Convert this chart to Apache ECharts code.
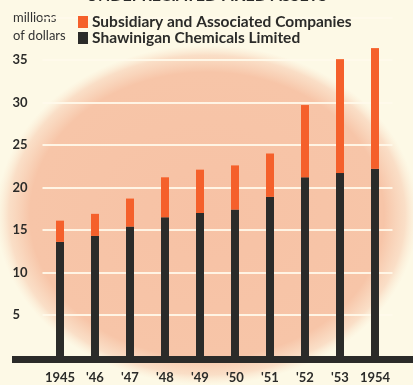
<!DOCTYPE html>
<html>
<head>
<meta charset="utf-8">
<script src="https://cdn.jsdelivr.net/npm/echarts@6/dist/echarts.min.js"></script>
<style>
  html, body { margin: 0; padding: 0; background: #fdf9e6; }
  #chart { width: 413px; height: 385px; }
</style>
</head>
<body>
<div id="chart"></div>
<script>
// Undepreciated fixed assets, millions of dollars
const years = ['1945', "'46", "'47", "'48", "'49", "'50", "'51", "'52", "'53", '1954'];
const shawinigan = [13.6, 14.3, 15.4, 16.5, 17.0, 17.4, 18.9, 21.2, 21.7, 22.2];
const subsidiary = [2.5, 2.6, 3.3, 4.7, 5.1, 5.2, 5.1, 8.5, 13.4, 14.2];
const yTicks = [5, 10, 15, 20, 25, 30, 35];

const FONT = 'Lato';
const INK = '#2b2b29';

const chart = echarts.init(document.getElementById('chart'), null, { renderer: 'canvas' });

chart.setOption({
  backgroundColor: '#fdf9e6',
  animation: false,
  title: {
    text: 'UNDEPRECIATED FIXED ASSETS',
    left: 'center',
    top: -17,
    textStyle: { fontFamily: FONT, fontWeight: 'bold', fontSize: 16, color: INK }
  },
  graphic: [
    {
      type: 'circle',
      z: -10,
      silent: true,
      x: 207, y: 215,
      scaleX: 1.24, scaleY: 1,
      shape: { cx: 0, cy: 0, r: 170 },
      style: {
        fill: {
          type: 'radial', x: 0.5, y: 0.5, r: 0.5,
          colorStops: [
            { offset: 0, color: '#f7c2a5' },
            { offset: 0.84, color: '#f7c5a8' },
            { offset: 0.94, color: 'rgba(248,205,178,0.6)' },
            { offset: 1, color: 'rgba(250,225,200,0)' }
          ]
        }
      }
    },
    {
      type: 'rect',
      z: 100,
      silent: true,
      shape: { x: 12, y: 356, width: 401, height: 7 },
      style: { fill: INK }
    },
    {
      type: 'text',
      left: 13,
      top: 9,
      style: {
        text: 'millions\nof dollars',
        font: '13px Lato',
        lineHeight: 18,
        fill: '#333'
      }
    }
  ],
  legend: {
    orient: 'vertical',
    left: 78,
    top: 14,
    padding: 0,
    itemWidth: 10,
    itemHeight: 12,
    itemGap: 0,
    icon: 'rect',
    data: ['Subsidiary and Associated Companies', 'Shawinigan Chemicals Limited'],
    textStyle: { fontFamily: FONT, fontWeight: 'bold', fontSize: 15.5, lineHeight: 13, color: INK, padding: [0, 0, 0, -1] }
  },
  grid: { left: 42.5, right: 20.5, top: 17.5, bottom: 27.5 },
  xAxis: {
    type: 'category',
    data: years,
    axisLine: { show: false },
    axisTick: { show: false },
    axisLabel: {
      interval: 0,
      margin: 14,
      fontFamily: FONT, fontWeight: 'bold', fontSize: 13, color: INK
    }
  },
  yAxis: {
    type: 'value',
    min: 0,
    max: 40,
    interval: 5,
    axisLine: { show: false },
    axisTick: { show: false },
    splitLine: { lineStyle: { color: 'rgba(255,250,235,0.9)', width: 2 } },
    axisLabel: {
      align: 'left',
      margin: 30,
      fontFamily: FONT, fontWeight: 'bold', fontSize: 13, color: INK,
      formatter: v => (yTicks.includes(v) ? String(v) : '')
    }
  },
  series: [
    {
      name: 'Shawinigan Chemicals Limited',
      type: 'bar',
      stack: 'assets',
      barWidth: 8,
      itemStyle: { color: INK },
      data: shawinigan
    },
    {
      name: 'Subsidiary and Associated Companies',
      type: 'bar',
      stack: 'assets',
      barWidth: 8,
      itemStyle: { color: '#f5602b' },
      data: subsidiary
    }
  ]
});
</script>
</body>
</html>
